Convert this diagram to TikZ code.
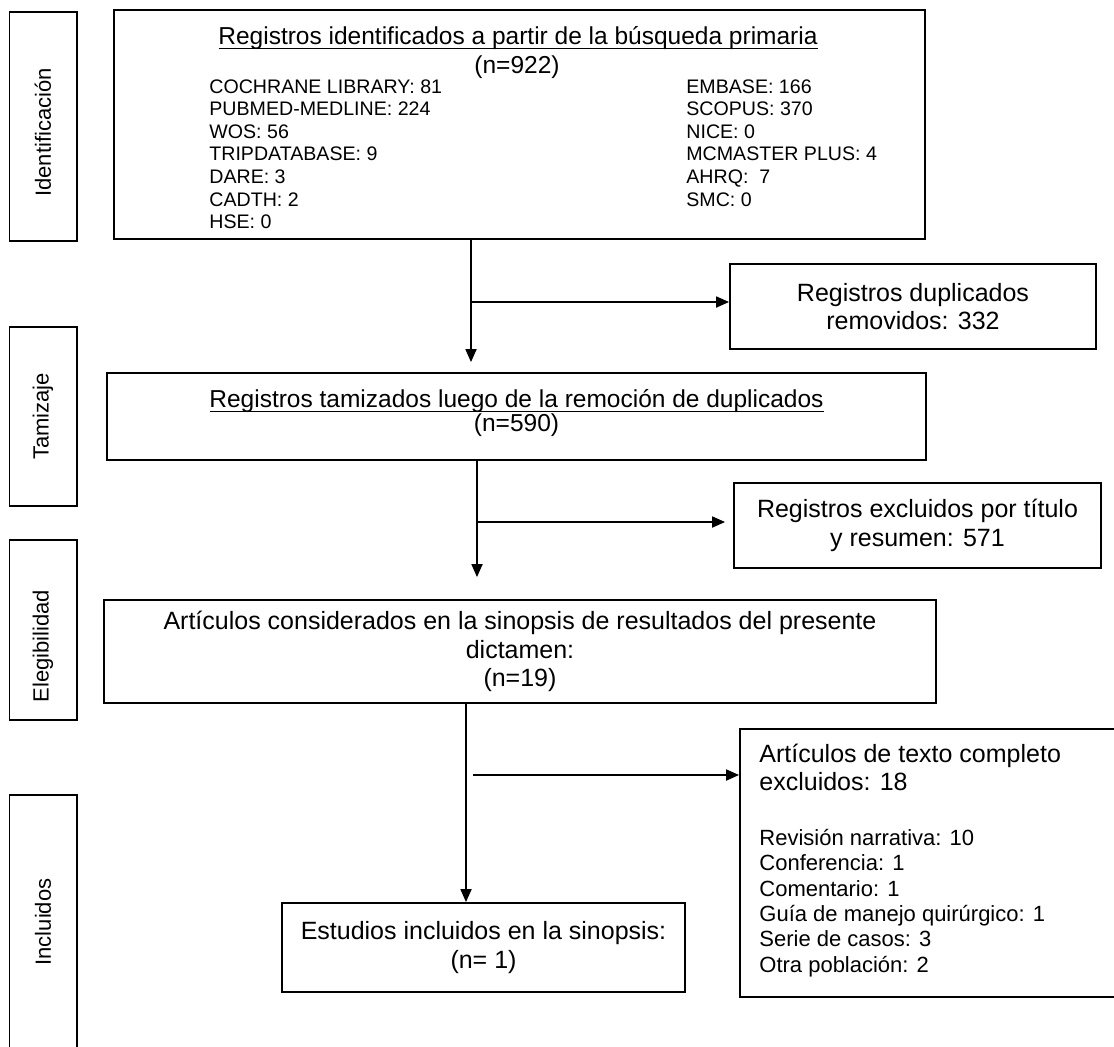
\documentclass[tikz,border=0pt]{standalone}
\usepackage{fontspec}
\setmainfont{Liberation Sans}
\usetikzlibrary{arrows.meta,positioning}

\tikzset{
  caja/.style={draw=black, line width=0.9pt, inner sep=0pt, align=center,
    font=\fontsize{12.5}{14.3}\selectfont},
  etapa/.style={draw=black, line width=0.9pt, rotate=90, inner sep=0pt,
    minimum width=#1, minimum height=33.6pt, font=\fontsize{11}{13}\selectfont},
  texto/.style={inner sep=0pt, font=\fontsize{12.25}{14}\selectfont},
  lista/.style={inner sep=0pt, align=left, anchor=north west,
    font=\fontsize{9.8}{11.3}\selectfont},
  subrayado/.style={line width=0.7pt, shorten <=0.5pt},
  flecha/.style={line width=0.9pt, -{Triangle[length=6.5pt,width=5.5pt]}}
}

\begin{document}
\begin{tikzpicture}[x=0.5pt, y=-0.5pt]
\useasboundingbox (0,0) rectangle (1114,1046);

% etapas
\node[etapa=114.5pt] (ident) at (43,126.5) {Identificación\hspace*{6pt}};
\node[etapa=89.5pt] (tamiz) at (43,416.5) {Tamizaje};
\node[etapa=90pt] (eleg) at (43,630) {Elegibilidad\hspace*{16pt}};
\node[etapa=127pt] (incl) at (43,922) {Incluidos};

% cajas principales
\node[caja, minimum width=405.5pt, minimum height=114.5pt] (registros) at (519.5,124.5) {};
\node[texto, anchor=base] (tit1) at (518,44) {Registros identificados a partir de la búsqueda primaria};
\draw[subrayado] ([yshift=-2.2pt]tit1.base west) -- ([yshift=-2.2pt]tit1.base east);
\node[texto, anchor=base] (n1) at (517,73) {(n=922)};
\node[lista] (bases1) at (209,79) {COCHRANE LIBRARY: 81\\PUBMED-MEDLINE: 224\\WOS: 56\\TRIPDATABASE: 9\\DARE: 3\\CADTH: 2\\HSE: 0};
\node[lista] (bases2) at (686,79) {EMBASE: 166\\SCOPUS: 370\\NICE: 0\\MCMASTER PLUS: 4\\AHRQ:\ \ 7\\SMC: 0};

\node[caja, minimum width=183pt, minimum height=42.5pt] (duplicados) at (913,306.5) {Registros duplicados\\removidos: 332};

\node[caja, minimum width=409.5pt, minimum height=43.5pt] (tamizados) at (516.5,416.5) {};
\node[texto, anchor=base] (tit2) at (516.5,407) {Registros tamizados luego de la remoción de duplicados};
\draw[subrayado] ([yshift=-2.2pt]tit2.base west) -- ([yshift=-2.2pt]tit2.base east);
\node[texto, anchor=base] (n2) at (516.5,431) {(n=590)};

\node[caja, minimum width=183.5pt, minimum height=42.5pt] (excluidos) at (917.5,525.5) {Registros excluidos por título\\y resumen: 571};

\node[caja, minimum width=416pt, minimum height=51.5pt] (articulos) at (520,651.5) {Artículos considerados en la sinopsis de resultados del presente\\dictamen:\\(n=19)};

\node[caja, minimum width=190pt, minimum height=134pt] (completo) at (930,863) {};
\node[lista, font=\fontsize{12.5}{14}\selectfont] (motivo) at (759,744) {Artículos de texto completo\\excluidos: 18};
\node[lista, font=\fontsize{11}{12.65}\selectfont] (detalle) at (759,829) {Revisión narrativa: 10\\Conferencia: 1\\Comentario: 1\\Guía de manejo quirúrgico: 1\\Serie de casos: 3\\Otra población: 2};

\node[caja, minimum width=201.5pt, minimum height=44.5pt] (estudios) at (483.5,947.5) {Estudios incluidos en la sinopsis:\\(n= 1)};

% conectores
\coordinate (r1) at (471,302);
\coordinate (r2) at (477,522);
\coordinate (r3) at (466,775);
\draw[flecha, shorten >=5pt] (registros.south -| r1) -- (tamizados.north -| r1);
\draw[flecha] (r1) -- (r1 -| duplicados.west);
\draw[flecha, shorten >=11pt] (tamizados.south -| r2) -- (articulos.north -| r2);
\draw[flecha, shorten >=4pt] (r2) -- (r2 -| excluidos.west);
\draw[flecha] (articulos.south -| r3) -- (estudios.north -| r3);
\draw[flecha, shorten <=3.5pt] (r3) -- (r3 -| completo.west);
\end{tikzpicture}
\end{document}
